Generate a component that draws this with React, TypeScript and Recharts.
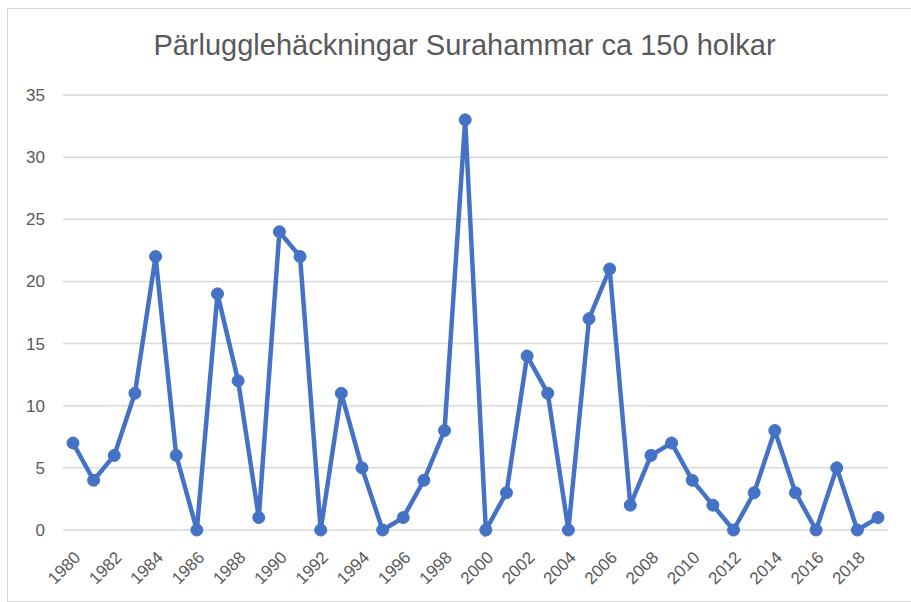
import React from "react";
import { LineChart, Line, XAxis, YAxis, CartesianGrid } from "recharts";

const years = [
  1980, 1981, 1982, 1983, 1984, 1985, 1986, 1987, 1988, 1989, 1990, 1991,
  1992, 1993, 1994, 1995, 1996, 1997, 1998, 1999, 2000, 2001, 2002, 2003,
  2004, 2005, 2006, 2007, 2008, 2009, 2010, 2011, 2012, 2013, 2014, 2015,
  2016, 2017, 2018, 2019,
];
const nests = [
  7, 4, 6, 11, 22, 6, 0, 19, 12, 1, 24, 22, 0, 11, 5, 0, 1, 4, 8, 33, 0, 3,
  14, 11, 0, 17, 21, 2, 6, 7, 4, 2, 0, 3, 8, 3, 0, 5, 0, 1,
];
const yTicks = [0, 5, 10, 15, 20, 25, 30, 35];

const title = "Pärlugglehäckningar Surahammar ca 150 holkar";
const font = "'Liberation Sans', Arial, sans-serif";

const data = years.map((y, i) => ({ year: String(y), value: nests[i] }));

const App = () => {
  return (
    <div
      style={{
        position: "absolute",
        left: 7,
        top: 8,
        width: 904,
        height: 594,
        boxSizing: "border-box",
        borderLeft: "1px solid #d9d9d9",
        borderTop: "1px solid #d9d9d9",
        borderBottom: "1px solid #d9d9d9",
        background: "#fff",
        fontFamily: font,
      }}
    >
      <div
        style={{
          position: "absolute",
          left: 0,
          top: 20,
          width: 913,
          textAlign: "center",
          fontSize: 29,
          color: "#595959",
          lineHeight: "32px",
        }}
      >
        {title}
      </div>
      <LineChart
        width={903}
        height={592}
        data={data}
        margin={{ top: 86, right: 23, left: 0, bottom: 0 }}
      >
        <CartesianGrid vertical={false} stroke="#d9d9d9" strokeWidth={1.5} />
        <XAxis
          dataKey="year"
          interval={1}
          height={71}
          padding={{ left: 10, right: 10 }}
          axisLine={false}
          tickLine={false}
          angle={-45}
          textAnchor="end"
          tick={{ fill: "#595959", fontSize: 17, fontFamily: font }}
          tickMargin={14}
        />
        <YAxis
          width={55}
          domain={[0, 35]}
          ticks={yTicks}
          axisLine={false}
          tickLine={false}
          tickMargin={12}
          tick={{ fill: "#595959", fontSize: 17, fontFamily: font }}
        />
        <Line
          type="linear"
          dataKey="value"
          stroke="#4472c4"
          strokeWidth={4.5}
          dot={{ r: 6, fill: "#4472c4", stroke: "#4472c4", strokeWidth: 1 }}
          activeDot={false}
          isAnimationActive={false}
        />
      </LineChart>
    </div>
  );
};

export default App;
